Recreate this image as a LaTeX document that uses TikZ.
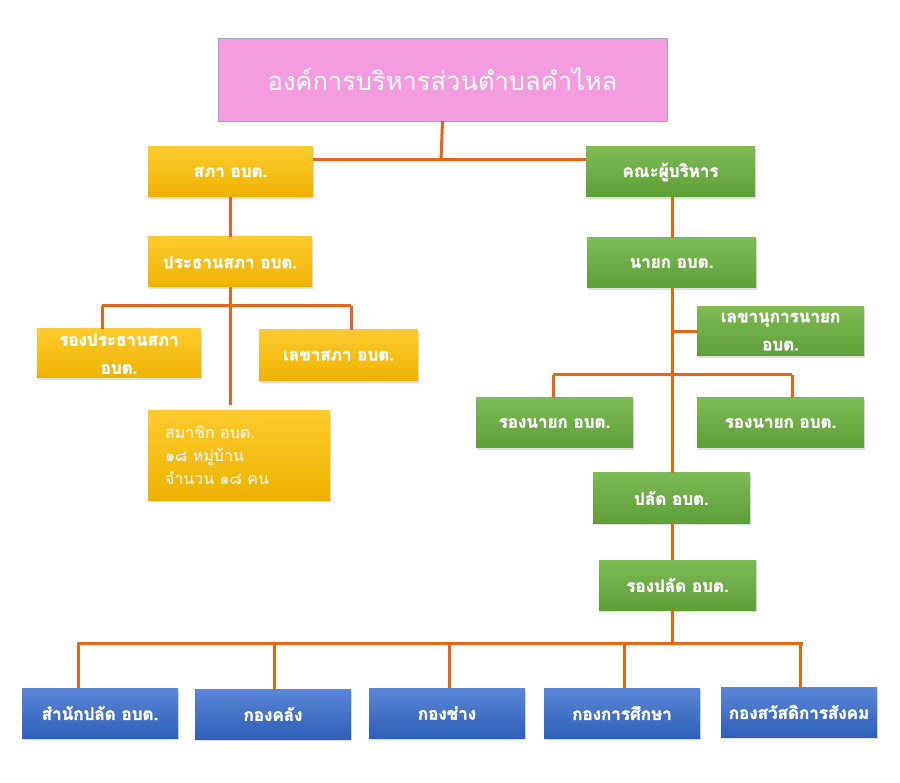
\documentclass[tikz,border=0pt]{standalone}
\usepackage{fontspec}
\newfontfamily\thaifont[Script=Thai]{Loma}
\newfontfamily\thaibold[Script=Thai,FakeBold=2]{Loma Bold}
\usepackage{tikz}
\usetikzlibrary{positioning,shadows}
\definecolor{pinkbox}{HTML}{F59BDF}
\definecolor{goldtop}{HTML}{FFCB2E}
\definecolor{goldbot}{HTML}{EDB100}
\definecolor{greentop}{HTML}{7DBB55}
\definecolor{greenbot}{HTML}{5E9E37}
\definecolor{bluetop}{HTML}{5A86D6}
\definecolor{bluebot}{HTML}{2F5FB8}
\definecolor{linecol}{HTML}{E3661C}
\begin{document}
\begin{tikzpicture}[x=1pt,y=-1pt]
\tikzstyle{orgbox}=[rectangle, draw=blue!20!gray!60, fill=pinkbox, text=white, minimum width=449pt, minimum height=83pt, font=\thaifont\fontsize{25.5}{30}\selectfont]
\tikzstyle{gold}=[rectangle, top color=goldtop, bottom color=goldbot, text=white, align=center, minimum height=50pt, font=\thaibold\fontsize{17}{28}\selectfont, drop shadow={opacity=0.25, shadow xshift=1pt, shadow yshift=-2pt}]
\tikzstyle{green}=[rectangle, top color=greentop, bottom color=greenbot, text=white, align=center, minimum height=50pt, font=\thaibold\fontsize{17}{28}\selectfont, drop shadow={opacity=0.25, shadow xshift=1pt, shadow yshift=-2pt}]
\tikzstyle{blue}=[rectangle, top color=bluetop, bottom color=bluebot, text=white, align=center, minimum width=156pt, minimum height=50pt, font=\thaibold\fontsize{17}{28}\selectfont, drop shadow={opacity=0.25, shadow xshift=1pt, shadow yshift=-2pt}]
\tikzstyle{twoline}=[inner ysep=0pt]
\tikzstyle{connect}=[draw=linecol, line width=3pt]
\useasboundingbox (0,0) rectangle (900,783);
	\node[orgbox] (org) at (442.5,79.5) {องค์การบริหารส่วนตำบลคำไหล};
	\node[gold, minimum width=165pt] (sapha) at (230.5,172) {สภา อบต.};
	\node[gold, minimum width=164pt] (prathan) at (230,262) {ประธานสภา อบต.};
	\node[gold, twoline, minimum width=164pt, minimum height=49pt] (rongprathan) at (119,353.5) {รองประธานสภา\\อบต.};
	\node[gold, minimum width=159pt, minimum height=51pt] (lekha) at (338.5,355.5) {เลขาสภา อบต.};
	\node[gold, minimum width=182pt, minimum height=89pt, text width=148pt, align=left, font=\thaifont\fontsize{16}{23}\selectfont] (samachik) at (239,455.5) {สมาชิก อบต.\\๑๘ หมู่บ้าน\\จำนวน ๑๘ คน};
	\node[green, minimum width=169pt] (kana) at (670.5,172) {คณะผู้บริหาร};
	\node[green, minimum width=169pt] (nayok) at (671.5,263) {นายก อบต.};
	\node[green, twoline, minimum width=167pt, minimum height=49pt] (lekhanu) at (780.5,331.5) {เลขานุการนายก\\อบต.};
	\node[green, minimum width=157pt] (rongnayok_1) at (554.5,423) {รองนายก อบต.};
	\node[green, minimum width=167pt] (rongnayok_2) at (780.5,423) {รองนายก อบต.};
	\node[green, minimum width=157pt] (palat) at (671.5,498) {ปลัด อบต.};
	\node[green, minimum width=157pt] (rongpalat) at (677.5,585) {รองปลัด อบต.};
	\node[blue] (samnak) at (100,713) {สำนักปลัด อบต.};
	\node[blue] (klang) at (273,714) {กองคลัง};
	\node[blue] (chang) at (447,713) {กองช่าง};
	\node[blue] (suksa) at (622,713) {กองการศึกษา};
	\node[blue] (sawat) at (799,712) {กองสวัสดิการสังคม};

	\coordinate (top_j) at (441,160);
	\coordinate (sapha_j) at (230,306);
	\coordinate (sapha_l) at (102,306);
	\coordinate (sapha_r) at (351,306);
	\coordinate (samachik_e) at (230,405);
	\coordinate (nayok_j) at (672,375);
	\coordinate (nayok_l) at (553,375);
	\coordinate (nayok_r) at (792,375);
	\coordinate (bottom_j) at (672,643);
	\coordinate (bottom_l) at (78,643);
	\coordinate (bottom_r) at (803,643);

	\path[connect]
		(org.south) edge [] (top_j)
		(sapha.east |- top_j) edge [] (kana.west |- top_j)
		(sapha.south -| prathan) edge [] (prathan.north)
		(prathan.south) edge [] (samachik_e)
		(sapha_l) edge [] (sapha_r)
		(rongprathan.north -| sapha_l) edge [] (sapha_l)
		(lekha.north -| sapha_r) edge [] (sapha_r)
		(kana.south -| bottom_j) edge [] (nayok.north -| bottom_j)
		(nayok.south -| bottom_j) edge [] (palat.north -| bottom_j)
		(palat.south -| bottom_j) edge [] (rongpalat.north -| bottom_j)
		(rongpalat.south -| bottom_j) edge [] (bottom_j)
		(lekhanu.west -| bottom_j) edge [] (lekhanu.west)
		(nayok_l) edge [] (nayok_r)
		(rongnayok_1.north -| nayok_l) edge [] (nayok_l)
		(rongnayok_2.north -| nayok_r) edge [] (nayok_r)
		(bottom_l) edge [] (bottom_r)
		(samnak.north -| bottom_l) edge [] (bottom_l);
	\foreach \b/\x in {klang/274, chang/449, suksa/624, sawat/800}
		\draw[connect] (\b.north -| \x,0) -- (\x,643);
\end{tikzpicture}
\end{document}
